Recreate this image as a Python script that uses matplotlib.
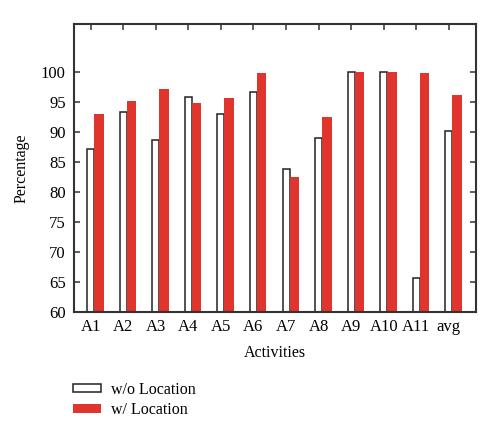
import numpy as np
import matplotlib
matplotlib.use("Agg")
import matplotlib.pyplot as plt
from matplotlib.patches import Patch

activities = ["A1", "A2", "A3", "A4", "A5", "A6", "A7", "A8", "A9", "A10", "A11", "avg"]
wo_location = [87.2, 93.4, 88.6, 95.9, 93.0, 96.6, 83.85, 89.0, 100.0, 100.0, 65.7, 90.25]
w_location = [93.0, 95.1, 97.2, 94.9, 95.6, 99.9, 82.5, 92.5, 100.0, 100.0, 99.9, 96.15]
y_ticks = [60, 65, 70, 75, 80, 85, 90, 95, 100]

plt.rcParams["font.family"] = ["Liberation Serif", "DejaVu Serif"]
red = "#e0352c"
edge = "#333333"

fig = plt.figure(figsize=(5.0, 4.36), dpi=100)
ax = fig.add_axes([0.148, 0.284, 0.803, 0.661])

x = np.arange(len(activities))
ax.bar(x - 0.105, wo_location, width=0.215, align="edge",
       facecolor="white", edgecolor="#222222", linewidth=1.1, zorder=2)
ax.bar(x + 0.11, w_location, width=0.29, align="edge",
       facecolor=red, edgecolor="none", zorder=2)

ax.set_xlim(-0.51, 11.82)
ax.set_ylim(60, 108)
ax.set_xticks(x)
ax.set_xticklabels(activities)
ax.set_yticks(y_ticks)
ax.tick_params(direction="in", top=True, right=True, length=4, width=1.1,
               color=edge, labelsize=12)
ax.tick_params(axis="y", pad=6)
ax.tick_params(axis="x", pad=5)
for s in ax.spines.values():
    s.set_linewidth(1.5)
    s.set_color(edge)

ax.set_xlabel("Activities", fontsize=11.5, labelpad=7)
ax.set_ylabel("Percentage", fontsize=11.5)
ax.yaxis.set_label_coords(-0.11, 0.5)

handles = [Patch(facecolor="white", edgecolor="#222222", linewidth=1.1, label="w/o Location"),
           Patch(facecolor=red, edgecolor="none", label="w/ Location")]
fig.legend(handles=handles, loc="upper left", bbox_to_anchor=(0.146, 0.125),
           frameon=False, fontsize=11.5, handlelength=1.75, handleheight=0.45,
           labelspacing=0.3, handletextpad=0.6, borderaxespad=0, borderpad=0)

fig.savefig("out.png", dpi=100)
